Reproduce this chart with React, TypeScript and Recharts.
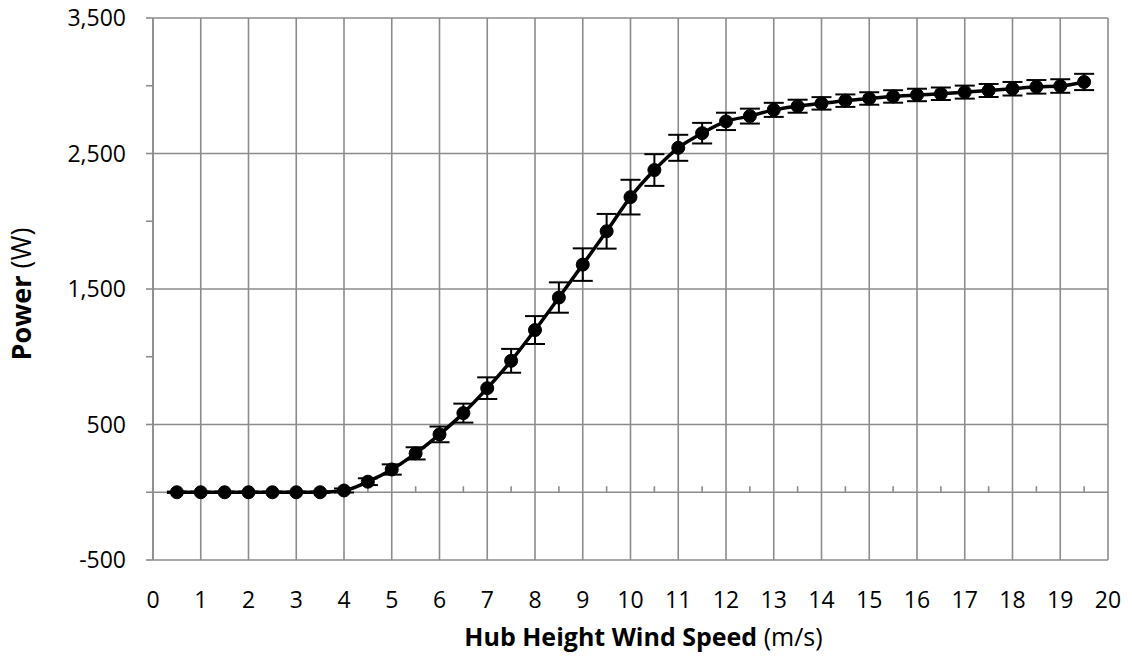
import React from 'react'
import { LineChart, Line, XAxis, YAxis, CartesianGrid, ErrorBar, ReferenceLine, Label } from 'recharts'

// Hub height wind speed bins (m/s)
const speeds = [
  0.5, 1, 1.5, 2, 2.5, 3, 3.5, 4, 4.5, 5, 5.5, 6, 6.5, 7, 7.5, 8, 8.5, 9, 9.5, 10,
  10.5, 11, 11.5, 12, 12.5, 13, 13.5, 14, 14.5, 15, 15.5, 16, 16.5, 17, 17.5, 18, 18.5, 19, 19.5,
]

// Mean power per bin (W)
const power = [
  0, 0, 0, 0, 0, 0, 0, 13, 78, 168, 287, 427, 584, 768, 970, 1197, 1437, 1680, 1926, 2178,
  2378, 2542, 2650, 2737, 2776, 2822, 2849, 2870, 2890, 2906, 2921, 2932, 2941, 2953, 2965, 2978, 2992, 2998, 3028,
]

// Error bar half-length (W)
const powerErr = [
  5, 5, 5, 5, 5, 5, 5, 15, 25, 38, 45, 58, 70, 80, 88, 103, 112, 120, 128, 128,
  117, 96, 76, 64, 55, 52, 48, 46, 46, 46, 46, 46, 46, 48, 48, 50, 50, 50, 60,
]

const xTicks = [0, 1, 2, 3, 4, 5, 6, 7, 8, 9, 10, 11, 12, 13, 14, 15, 16, 17, 18, 19, 20]
const yMajor = [-500, 500, 1500, 2500, 3500]
const yAll = [-500, 0, 500, 1000, 1500, 2000, 2500, 3000, 3500]

const data = speeds.map((s, i) => ({ speed: s, power: power[i], err: powerErr[i] }))

const FONT = '"Open Sans", sans-serif'
const GRID = '#8c8c8c'

// horizontal axis line crossing at 0, with small upward ticks every 0.5 m/s
const ZeroAxis = (p: any) => {
  const { x1, x2, y1 } = p
  const halfSteps: number[] = []
  for (let v = 0.5; v < 20; v += 1) halfSteps.push(v)
  return (
    <g>
      <line x1={x1} x2={x2} y1={y1} y2={y1} stroke={GRID} strokeWidth={1.6} />
      {halfSteps.map((v) => {
        const x = x1 + ((x2 - x1) * v) / 20
        return <line key={v} x1={x} x2={x} y1={y1} y2={y1 - 6} stroke={GRID} strokeWidth={1.6} />
      })}
    </g>
  )
}

const XTitle = (props: any) => {
  const { x, width, y } = props.viewBox
  return (
    <text x={x + width / 2 + 13} y={y + 86} textAnchor="middle" fontFamily={FONT} fontSize={25} fill="#000">
      <tspan fontWeight="bold">Hub Height Wind Speed</tspan>
      <tspan> (m/s)</tspan>
    </text>
  )
}

const YTitle = (props: any) => {
  const { y, height } = props.viewBox
  const cx = 20
  const cy = y + height / 2 + 5
  return (
    <text x={cx} y={cy} transform={`rotate(-90 ${cx} ${cy})`} textAnchor="middle" dominantBaseline="central"
      fontFamily={FONT} fontSize={27} fill="#000">
      <tspan fontWeight="bold">Power</tspan>
      <tspan> (W)</tspan>
    </text>
  )
}

export default function App() {
  return (
    <div style={{ width: 1132, height: 663, margin: -8, fontFamily: FONT }}>
      <LineChart width={1132} height={663} data={data} margin={{ top: 18, right: 24, left: 0, bottom: 0 }}>
        <CartesianGrid stroke={GRID} strokeWidth={1.6} horizontalValues={yMajor} verticalValues={xTicks} />
        <XAxis
          type="number"
          dataKey="speed"
          domain={[0, 20]}
          ticks={xTicks}
          interval={0}
          axisLine={false}
          tickLine={false}
          tickMargin={26}
          height={103}
          tick={{ fill: '#000', fontSize: 23, fontFamily: FONT }}
        >
          <Label content={XTitle} />
        </XAxis>
        <YAxis
          type="number"
          domain={[-500, 3500]}
          ticks={yAll}
          interval={0}
          width={153}
          axisLine={{ stroke: GRID, strokeWidth: 1.6 }}
          tickLine={{ stroke: GRID, strokeWidth: 1.6 }}
          tickSize={7}
          tickMargin={20}
          tickFormatter={(v: number) => (yMajor.includes(v) ? v.toLocaleString('en-US') : '')}
          tick={{ fill: '#000', fontSize: 23, fontFamily: FONT }}
        >
          <Label content={YTitle} />
        </YAxis>
        <ReferenceLine y={0} shape={ZeroAxis} />
        <Line
          type="monotone"
          dataKey="power"
          stroke="#000"
          strokeWidth={3.5}
          dot={{ r: 6.5, fill: '#000', stroke: '#000', strokeWidth: 1 }}
          activeDot={false}
          isAnimationActive={false}
        >
          <ErrorBar dataKey="err" direction="y" width={10} stroke="#000" strokeWidth={2} />
        </Line>
      </LineChart>
    </div>
  )
}
